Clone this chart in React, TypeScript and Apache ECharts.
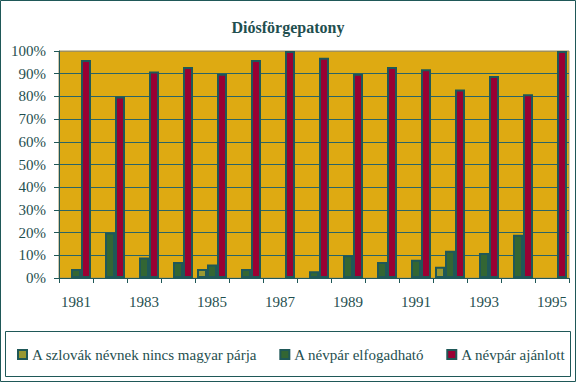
import React, { useEffect, useRef } from "react";
import * as echarts from "echarts";

const years = ["1981","1982","1983","1984","1985","1986","1987","1988","1989","1990","1991","1992","1993","1994","1995"];
const seriesNames = ["A szlovák névnek nincs magyar párja", "A névpár elfogadható", "A névpár ajánlott"];
const noPair = [null, null, null, null, 4, null, null, null, null, null, null, 5, null, null, null];
const acceptable = [4, 20, 9, 7, 6, 4, null, 3, 10, 7, 8, 12, 11, 19, null];
const recommended = [96, 80, 91, 93, 90, 96, 100, 97, 90, 93, 92, 83, 89, 81, 100];
const yTicks = [0, 10, 20, 30, 40, 50, 60, 70, 80, 90, 100];

const TEAL = "#1F5858";
const TEXT = "#1F4F4F";
const FONT = "Tinos, 'Liberation Serif', 'DejaVu Serif', 'Noto Serif', 'Times New Roman', Times, serif";

export default function App() {
  const ref = useRef<HTMLDivElement>(null);
  useEffect(() => {
    document.body.style.margin = "0";
    const chart = echarts.init(ref.current!, null, { renderer: "svg" });
    const barStyle = (color: string) => ({ color, borderColor: TEAL, borderWidth: 2 });
    const splitColors = yTicks.map((v) => (v === 100 ? "#A0905A" : "#2A6468"));
    chart.setOption({
      animation: false,
      backgroundColor: "#FFFFFF",
      textStyle: { fontFamily: FONT },
      title: {
        text: "Diósförgepatony",
        left: "center",
        top: 14,
        textStyle: { fontFamily: FONT, fontSize: 16, fontWeight: "bold", color: TEXT },
      },
      grid: {
        left: 59,
        right: 7,
        top: 51,
        bottom: 104,
        show: true,
        backgroundColor: "#DEAA12",
        borderColor: "#A0905A",
        borderWidth: 1,
      },
      legend: {
        left: 17,
        top: 347,
        padding: 0,
        itemGap: 22,
        itemWidth: 9,
        itemHeight: 9,
        icon: "rect",
        itemStyle: { borderColor: TEAL, borderWidth: 2 },
        textStyle: { fontFamily: FONT, fontSize: 15, color: TEXT },
        data: seriesNames,
      },
      xAxis: {
        type: "category",
        data: years,
        axisLine: { lineStyle: { color: TEAL, width: 1 } },
        axisTick: { show: true, interval: 0, length: 5, lineStyle: { color: TEAL } },
        axisLabel: { interval: 1, margin: 16, fontFamily: FONT, fontSize: 15, color: TEXT },
      },
      yAxis: {
        type: "value",
        min: 0,
        max: 100,
        interval: 10,
        axisLine: { show: true, lineStyle: { color: TEAL, width: 1 } },
        axisTick: { show: true, length: 5, lineStyle: { color: TEAL } },
        axisLabel: { margin: 13, formatter: "{value}%", fontFamily: FONT, fontSize: 15, color: TEXT },
        splitLine: { show: true, lineStyle: { color: splitColors, width: 1 } },
      },
      series: [
        { name: seriesNames[0], type: "bar", data: noPair, barWidth: 10, barGap: "0%", itemStyle: barStyle("#999933") },
        { name: seriesNames[1], type: "bar", data: acceptable, barWidth: 10, barGap: "0%", itemStyle: barStyle("#336633") },
        { name: seriesNames[2], type: "bar", data: recommended, barWidth: 10, barGap: "0%", itemStyle: barStyle("#990033") },
      ],
      graphic: [
        {
          type: "rect",
          shape: { x: 0.5, y: 0.5, width: 575, height: 381 },
          style: { fill: "none", stroke: TEAL, lineWidth: 1 },
          silent: true,
          z: 100,
        },
        {
          type: "rect",
          shape: { x: 5.5, y: 331.5, width: 565, height: 45 },
          style: { fill: "none", stroke: TEAL, lineWidth: 1 },
          silent: true,
          z: 100,
        },
      ],
    });
    return () => chart.dispose();
  }, []);
  return <div ref={ref} style={{ width: 576, height: 382 }} />;
}
